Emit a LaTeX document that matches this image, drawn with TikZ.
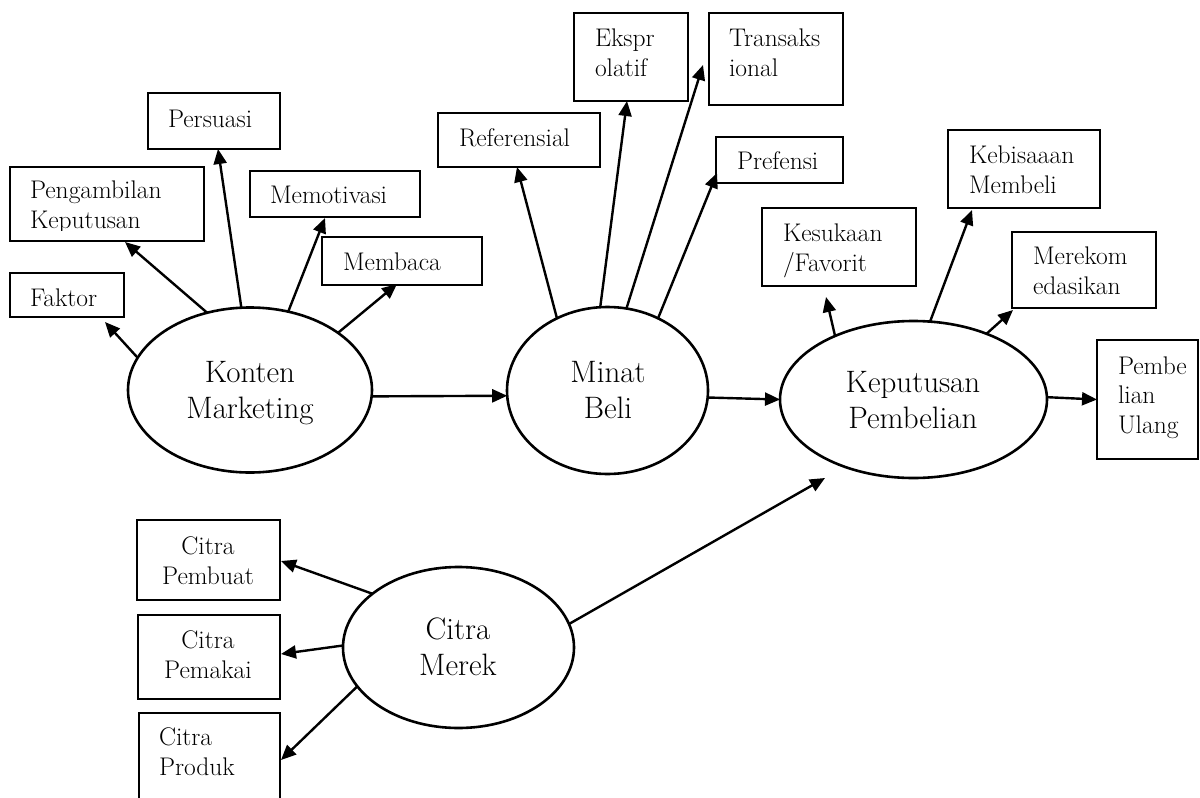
\documentclass[tikz,border=0pt]{standalone}
\usepackage{fontspec}
\usetikzlibrary{arrows.meta,shapes.geometric}
\tikzset{
  box/.style={draw, line width=1.4pt, rectangle, inner sep=0pt, outer sep=0pt},
  oval/.style={draw, line width=2.6pt, ellipse, inner sep=0pt, outer sep=0pt},
  btxt/.style={inner sep=0pt, outer sep=0pt, align=left, font=\fontsize{25.5}{29.5}\selectfont},
  otxt/.style={inner sep=0pt, outer sep=0pt, align=center, anchor=base, font=\fontsize{31}{35.5}\selectfont},
  arr/.style={line width=2.4pt, -{Triangle[length=15pt,width=13pt]}}
}
\begin{document}
\begin{tikzpicture}[x=1pt,y=-1pt]
\useasboundingbox (0,0) rectangle (1200,798);
% boxes
\node[box, minimum width=132pt, minimum height=56pt] (persuasi) at (214,121) {};
\node[box, minimum width=194pt, minimum height=74pt] (pengambilan) at (107,204) {};
\node[box, minimum width=170pt, minimum height=46pt] (memotivasi) at (335,194) {};
\node[box, minimum width=160pt, minimum height=48pt] (membaca) at (402,261) {};
\node[box, minimum width=114pt, minimum height=44pt] (faktor) at (67,295) {};
\node[box, minimum width=162pt, minimum height=54pt] (referensial) at (519,140) {};
\node[box, minimum width=114pt, minimum height=88pt] (ekspr) at (631,57) {};
\node[box, minimum width=134pt, minimum height=92pt] (transaks) at (776,59) {};
\node[box, minimum width=127pt, minimum height=46pt] (prefensi) at (779.5,160) {};
\node[box, minimum width=154pt, minimum height=78pt] (kesukaan) at (839,247) {};
\node[box, minimum width=152pt, minimum height=78pt] (kebisaan) at (1024,169) {};
\node[box, minimum width=144pt, minimum height=76pt] (merekom) at (1084,270) {};
\node[box, minimum width=101pt, minimum height=119pt] (ulang) at (1147.5,399.5) {};
\node[box, minimum width=143pt, minimum height=80pt] (pembuat) at (208.5,560) {};
\node[box, minimum width=142pt, minimum height=84pt] (pemakai) at (209,657) {};
\node[box, minimum width=141pt, minimum height=107pt] (produk) at (209.5,766.5) {};
% box texts (anchor base = baseline of the last line)
\node[btxt, anchor=base west] (t-persuasi) at (168,127) {Persuasi};
\begin{scope}
\clip (10,167) rectangle (204,230);
\node[btxt, anchor=base west] (t-pengambilan) at (30,228) {Pengambilan\\Keputusan};
\end{scope}
\node[btxt, anchor=base west] (t-memotivasi) at (270,203) {Memotivasi};
\node[btxt, anchor=base west] (t-membaca) at (343,270) {Membaca};
\node[btxt, anchor=base west] (t-faktor) at (30,306) {Faktor};
\node[btxt, anchor=base west] (t-referensial) at (459,146) {Referensial};
\node[btxt, anchor=base west] (t-ekspr) at (595,76) {Ekspr\\olatif};
\node[btxt, anchor=base west] (t-transaks) at (729,76) {Transaks\\ional};
\node[btxt, anchor=base west] (t-prefensi) at (737,169) {Prefensi};
\node[btxt, anchor=base west] (t-kesukaan) at (783,271) {Kesukaan\\/Favorit};
\node[btxt, anchor=base west] (t-kebisaan) at (969,193) {Kebisaaan\\Membeli};
\node[btxt, anchor=base west] (t-merekom) at (1033,294) {Merekom\\edasikan};
\node[btxt, anchor=base west] (t-ulang) at (1118,433) {Pembe\\lian\\Ulang};
\node[btxt, align=center, anchor=base] (t-pembuat) at (208,584) {Citra\\Pembuat};
\node[btxt, align=center, anchor=base] (t-pemakai) at (208,678) {Citra\\Pemakai};
\node[btxt, anchor=base west] (t-produk) at (159,775) {Citra\\Produk};
% ellipses
\node[oval, minimum width=244pt, minimum height=165pt] (km) at (250,390) {};
\node[oval, minimum width=201pt, minimum height=167pt] (mb) at (607.5,390.5) {};
\node[oval, minimum width=267pt, minimum height=157pt] (kp) at (913.5,399.5) {};
\node[oval, minimum width=231pt, minimum height=161pt] (cm) at (458.5,647.5) {};
\node[otxt] (t-km) at (250,418) {Konten\\Marketing};
\node[otxt] (t-mb) at (608,418) {Minat\\Beli};
\node[otxt] (t-kp) at (913,428) {Keputusan\\Pembelian};
\node[otxt] (t-cm) at (458,675) {Citra\\Merek};
% arrows from Konten Marketing
\draw[arr] (km.164) -- ([shift={(38,5)}]faktor.south);
\draw[arr] (km.119) -- ([shift={(18,1)}]pengambilan.south);
\draw[arr] (km.96) -- ([shift={(4,0)}]persuasi.south);
\draw[arr] (km.64) -- ([shift={(-10,1)}]memotivasi.south);
\draw[arr] (km.33) -- ([shift={(-5,-1)}]membaca.south);
\draw[arr] (km.-3) -- (mb.183);
% arrows from Minat Beli
\draw[arr] (mb.125) -- ([shift={(-2,0)}]referensial.south);
\draw[arr] (mb.95) -- ([shift={(-4,0)}]ekspr.south);
\draw[arr] (mb.77) -- ([shift={(-6,6)}]transaks.west);
\draw[arr] (mb.55) -- ([shift={(1,-10)}]prefensi.south west);
\draw[arr] (mb.-4) -- (kp.west);
% arrows from Keputusan Pembelian
\draw[arr] (kp.141) -- ([shift={(-13,11)}]kesukaan.south);
\draw[arr] (kp.78) -- ([shift={(-52,2)}]kebisaan.south);
\draw[arr] (kp.42) -- ([shift={(1,2)}]merekom.south west);
\draw[arr] (kp.1) -- (ulang.west);
% arrows from Citra Merek
\draw[arr] (cm.148) -- ([shift={(1,1)}]pembuat.east);
\draw[arr] (cm.179) -- ([shift={(1,-3)}]pemakai.east);
\draw[arr] (cm.201) -- ([shift={(1,-6.5)}]produk.east);
\draw[arr] (cm.12) -- ([shift={(-88.5,0)}]kp.south);
\end{tikzpicture}
\end{document}
